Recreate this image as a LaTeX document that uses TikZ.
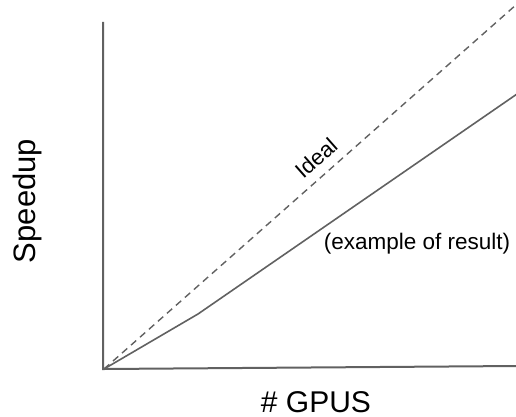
\documentclass[tikz,border=0pt]{standalone}
\usepackage{fontspec}
\setmainfont{Liberation Sans}
\begin{document}
\begin{tikzpicture}[x=1pt,y=-1pt,
  axisline/.style={draw=black!62, line width=2pt},
  curve/.style={draw=black!62, line width=1.6pt},
  idealline/.style={draw=black!62, line width=1.4pt, dash pattern=on 7pt off 5pt},
  lbl/.style={inner sep=0pt, text=black}]
  \useasboundingbox (0,0) rectangle (516,417);
  % axes
  \coordinate (origin) at (104,369);
  \coordinate (ytop) at (103,22);
  \coordinate (xend) at (517,366);
  \draw[axisline] (ytop) -- (103,369) -- (origin) -- (xend);
  % ideal speedup
  \coordinate (idealend) at (517,4);
  \draw[idealline] (origin) -- (idealend);
  % measured speedup
  \coordinate (kink) at (198,314);
  \coordinate (resultend) at (517,94);
  \draw[curve] (origin) -- (kink) -- (resultend);
  % labels
  \node[lbl, font=\fontsize{22}{26}\selectfont, rotate=41.5] (ideal) at (316,158) {Ideal};
  \node[lbl, font=\fontsize{22.5}{27}\selectfont] (result) at (417,244) {(example of result)};
  \node[lbl, font=\fontsize{31}{37}\selectfont, rotate=90] (ylab) at (27,201) {Speedup};
  \node[lbl, font=\fontsize{30}{36}\selectfont, anchor=base] (xlab) at (316,412) {\#\ GPUS};
\end{tikzpicture}
\end{document}
